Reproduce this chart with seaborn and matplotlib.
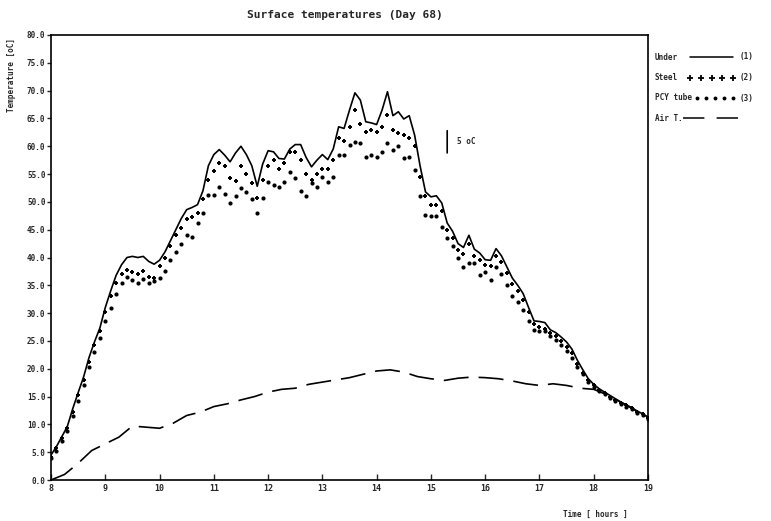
import numpy as np
import pandas as pd
import matplotlib
matplotlib.use("Agg")
import matplotlib.pyplot as plt
from matplotlib.lines import Line2D
import seaborn as sns

# ---------------- data ----------------
hours = [round(8 + 0.1 * k, 1) for k in range(111)]

under = [4.5, 6.0, 7.8, 9.6, 12.8, 15.7, 18.5, 22.0, 24.8, 27.3,
         31.0, 34.0, 36.8, 38.7, 40.0, 40.2, 40.0, 40.2, 39.3, 38.8,
         39.5, 41.0, 43.0, 45.0, 47.0, 48.6, 49.0, 49.5, 52.0, 56.5,
         58.5, 59.4, 58.4, 57.2, 58.8, 60.0, 58.5, 56.5, 52.8, 56.8,
         59.2, 59.0, 57.8, 57.7, 59.5, 60.3, 60.3, 58.0, 56.3, 57.5,
         58.5, 57.6, 59.5, 63.5, 63.2, 66.5, 69.6, 68.3, 64.4, 64.2,
         63.9, 66.5, 69.8, 65.5, 66.2, 64.9, 65.5, 62.0, 56.5, 51.8,
         50.9, 51.1, 49.8, 46.2, 44.7, 42.5, 41.8, 44.0, 41.5, 40.8,
         39.6, 39.5, 41.6, 40.3, 38.3, 36.3, 35.0, 33.5, 31.0, 28.6,
         28.5, 28.3, 27.0, 26.5, 25.7, 24.8, 23.5, 21.5, 19.8, 18.2,
         17.2, 16.4, 15.8, 15.2, 14.6, 14.0, 13.5, 13.0, 12.4, 11.9, 11.3]

steel = [4.2, 5.8, 7.5, 9.3, 12.3, 15.2, 18.0, 21.3, 24.2, 26.8,
         30.2, 33.0, 35.5, 37.0, 37.8, 37.4, 37.0, 37.6, 36.5, 36.3,
         38.5, 40.0, 42.0, 44.0, 45.3, 47.0, 47.2, 48.0, 50.5, 54.0,
         55.5, 57.0, 56.5, 54.3, 53.8, 56.5, 55.0, 53.4, 50.7, 54.0,
         56.5, 57.5, 56.0, 57.0, 59.0, 59.0, 57.5, 55.0, 54.0, 55.0,
         56.0, 56.0, 57.5, 61.5, 61.0, 63.5, 66.5, 64.0, 62.6, 63.0,
         62.6, 63.5, 65.6, 63.0, 62.4, 62.0, 61.5, 60.0, 54.5, 51.0,
         49.5, 49.5, 48.3, 45.0, 43.5, 41.3, 40.6, 42.5, 40.3, 39.5,
         38.6, 38.5, 40.2, 39.2, 37.2, 35.3, 34.0, 32.4, 30.2, 28.0,
         27.5, 27.2, 26.4, 25.8, 25.0, 24.0, 22.8, 20.8, 19.2, 17.9,
         17.0, 16.2, 15.6, 15.0, 14.4, 13.9, 13.4, 12.9, 12.3, 11.8, 11.2]

pcy = [4.0, 5.3, 7.0, 8.8, 11.5, 14.2, 17.0, 20.3, 23.0, 25.5,
       28.5, 31.0, 33.5, 35.5, 36.5, 36.0, 35.5, 36.2, 35.5, 35.8,
       36.3, 37.5, 39.5, 41.0, 42.5, 44.0, 43.7, 46.2, 48.0, 51.2,
       51.2, 52.7, 51.5, 49.8, 51.0, 52.5, 51.8, 50.5, 48.0, 50.7,
       53.5, 53.0, 52.7, 53.6, 55.4, 54.3, 52.0, 51.0, 53.4, 52.7,
       54.5, 53.5, 54.5, 58.5, 58.5, 60.3, 60.8, 60.6, 58.0, 58.5,
       58.0, 59.0, 60.6, 59.4, 60.0, 57.8, 58.0, 55.8, 51.0, 47.7,
       47.5, 47.5, 45.5, 43.5, 42.0, 40.0, 38.3, 39.0, 39.0, 36.9,
       37.4, 36.0, 38.3, 37.0, 35.0, 33.0, 32.0, 30.5, 28.5, 27.0,
       26.8, 26.8, 25.8, 25.2, 24.3, 23.2, 22.0, 20.3, 19.0, 17.6,
       16.8, 16.0, 15.4, 14.8, 14.2, 13.7, 13.2, 12.7, 12.1, 11.6, 11.0]

air_hours = [round(8 + 0.25 * k, 2) for k in range(45)]
air = [0.0, 1.0, 3.0, 5.3, 6.5, 7.7, 9.7, 9.5, 9.3, 10.2,
       11.6, 12.2, 13.2, 13.7, 14.4, 15.0, 15.8, 16.3, 16.5, 17.2,
       17.6, 18.0, 18.4, 19.0, 19.6, 19.8, 19.4, 18.6, 18.2, 17.9,
       18.3, 18.5, 18.4, 18.2, 17.8, 17.3, 17.0, 17.3, 17.0, 16.5,
       16.3, 15.3, 14.0, 12.6, 11.3]

x_ticks = list(range(8, 20))
y_ticks = [5 * i for i in range(17)]

title = "Surface temperatures (Day 68)"
legend_names = ["Under", "Steel", "PCY tube", "Air T."]
legend_tags = ["(1)", "(2)", "(3)", ""]

# scale bar annotation
scale_t = 15.3
scale_low = 58.3
scale_len = 5.0

# ---------------- drawing ----------------
sns.set_style("ticks")
FONT = "DejaVu Sans Mono"
plt.rcParams["font.family"] = [FONT]

df = pd.DataFrame({"t": hours, "under": under, "steel": steel, "pcy": pcy})
dfa = pd.DataFrame({"t": air_hours, "air": air})

W, H = 771, 521
fig = plt.figure(figsize=(W / 100, H / 100), dpi=100)
ax = fig.add_axes([51 / W, 1 - 480 / H, (648 - 51) / W, (480 - 35) / H])

DASH = (0, (15, 6))
sns.lineplot(data=df, x="t", y="under", ax=ax, color="black", linewidth=1.2)
sns.scatterplot(data=df, x="t", y="steel", ax=ax, color="black", marker="+",
                s=12, linewidth=1.4)
sns.scatterplot(data=df, x="t", y="pcy", ax=ax, color="black", marker="o",
                s=9, linewidth=0)
sns.lineplot(data=dfa, x="t", y="air", ax=ax, color="black", linewidth=1.2,
             linestyle=DASH)

ax.set_xlim(8, 19)
ax.set_ylim(0, 80)
ax.set_xticks(x_ticks)
ax.set_xticklabels([str(v) for v in x_ticks], fontsize=6, fontweight="bold")
ax.set_yticks(y_ticks)
ax.set_yticklabels([f"{v:.1f}" for v in y_ticks], fontsize=5.5, fontweight="bold")
ax.tick_params(axis="x", direction="in", length=4, width=1, pad=3)
ax.tick_params(axis="y", direction="out", length=3, width=1, pad=1)
ax.set_xlabel("")
ax.set_ylabel("")
for s in ax.spines.values():
    s.set_visible(True)
    s.set_linewidth(1.2)
    s.set_color("black")

# scale bar
ax.annotate("", xy=(scale_t, scale_low), xytext=(scale_t, scale_low + scale_len),
            arrowprops=dict(arrowstyle="-", color="black", lw=1.2))
ax.text(scale_t + 0.18, scale_low + scale_len / 2, "5 oC", fontsize=5.5,
        fontweight="bold", va="center", ha="left")

# titles / labels
fig.text(345 / W, 1 - 15 / H, title, ha="center", va="center", fontsize=8,
         fontweight="bold")
fig.text(12 / W, 1 - 75 / H, "Temperature [oC]", rotation=90, ha="center",
         va="center", fontsize=5.5, fontweight="bold")
fig.text(595 / W, 1 - 514 / H, "Time [ hours ]", ha="center", va="center",
         fontsize=5.5, fontweight="bold")

# legend (outside, right)
rows_y = [57, 78, 98, 118]
for i, (name, tag, yy) in enumerate(zip(legend_names, legend_tags, rows_y)):
    fy = 1 - yy / H
    fig.text(655 / W, fy, name, ha="left", va="center", fontsize=5.5,
             fontweight="bold")
    if i == 0:
        fig.add_artist(Line2D([690 / W, 733 / W], [fy, fy], color="black",
                              lw=1.1, transform=fig.transFigure))
    elif i == 1:
        xs = np.linspace(690, 733, 5) / W
        fig.add_artist(Line2D(xs, [fy] * 5, color="black", lw=0, marker="+",
                              markersize=4, mew=1.3, transform=fig.transFigure))
    elif i == 2:
        xs = np.linspace(697, 733, 5) / W
        fig.add_artist(Line2D(xs, [fy] * 5, color="black", lw=0, marker="o",
                              markersize=1.8, transform=fig.transFigure))
    else:
        fig.add_artist(Line2D([683 / W, 748 / W], [fy, fy], color="black",
                              lw=1.1, linestyle=(0, (14, 8)),
                              transform=fig.transFigure))
    if tag:
        fig.text(740 / W, fy, tag, ha="left", va="center", fontsize=5.5,
                 fontweight="bold")

fig.savefig("out.png", dpi=100)
